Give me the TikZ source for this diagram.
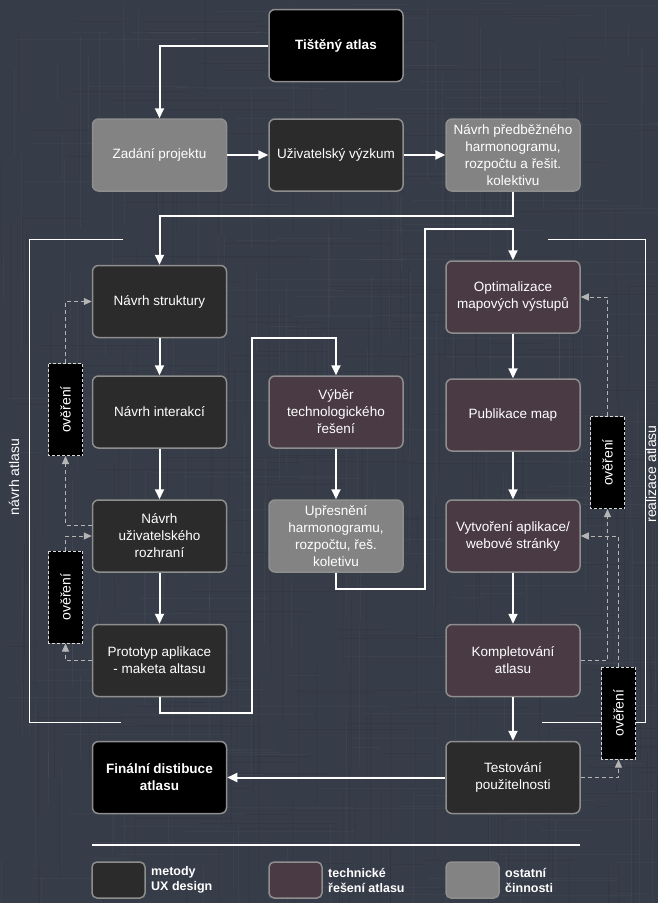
\documentclass[tikz,border=0pt]{standalone}
\usepackage{fontspec}
\setmainfont{Liberation Sans}
\usetikzlibrary{arrows.meta}
\definecolor{bgc}{HTML}{363C48}
\definecolor{darkc}{HTML}{2B2B2B}
\definecolor{grayc}{HTML}{838383}
\definecolor{maroonc}{HTML}{4A3A44}
\definecolor{borderc}{HTML}{8E8E8E}
\definecolor{dashc}{HTML}{B4B4B4}
\tikzset{
  basebox/.style={rectangle, rounded corners=6pt, draw=borderc, line width=1.5pt,
    minimum width=134pt, minimum height=72pt, inner sep=0pt, align=center,
    text=white, font=\fontsize{13.5}{17}\selectfont},
  uxbox/.style={basebox, fill=darkc},
  techbox/.style={basebox, fill=maroonc},
  othbox/.style={basebox, fill=grayc},
  keybox/.style={basebox, fill=black, font=\fontsize{13.5}{17}\selectfont\bfseries},
  checkbox/.style={rectangle, draw=white!85!black, dashed, dash pattern=on 3pt off 2pt,
    line width=1pt, fill=black, rotate=90, minimum width=92pt, minimum height=34pt,
    inner sep=0pt, text=white, font=\fontsize{14}{16}\selectfont},
  flow/.style={draw=white, line width=2pt, -{Triangle[length=10pt,width=9pt]}},
  plainline/.style={draw=white, line width=2pt},
  verif/.style={draw=dashc, line width=1pt, dash pattern=on 4pt off 3pt,
    -{Triangle[length=8pt,width=7pt]}},
  frameline/.style={draw=white, line width=1pt},
  sidelabel/.style={rotate=90, text=white, inner sep=0pt, font=\fontsize{14}{16}\selectfont},
  legbox/.style={rectangle, rounded corners=5pt, draw=borderc, line width=1.5pt,
    minimum width=53pt, minimum height=36pt, inner sep=0pt},
  legtext/.style={anchor=west, align=left, text=white, inner sep=0pt,
    font=\fontsize{12.5}{15}\selectfont\bfseries},
  texlight/.style={draw=white, opacity=0.03, line width=1pt},
  texdark/.style={draw=black, opacity=0.05, line width=1pt}
}
\begin{document}
\begin{tikzpicture}[x=1pt,y=-1pt]
\useasboundingbox (0,0) rectangle (658,903);
\fill[bgc] (0,0) rectangle (658,903);

% subtle woven background texture
\pgfmathsetseed{4242}
\begin{scope}
\clip (0,0) rectangle (658,903);
\foreach \k in {1,...,150}{
  \pgfmathsetmacro\xx{random(0,658)}
  \pgfmathsetmacro\ya{random(0,903)}
  \pgfmathsetmacro\ln{random(30,200)}
  \draw[texlight] (\xx,\ya) -- ++(0,\ln);
  \pgfmathsetmacro\xb{random(0,658)}
  \pgfmathsetmacro\yb{random(0,903)}
  \pgfmathsetmacro\lb{random(30,200)}
  \draw[texdark] (\xb,\yb) -- ++(0,\lb);
  \pgfmathsetmacro\xc{random(0,658)}
  \pgfmathsetmacro\yc{random(0,903)}
  \pgfmathsetmacro\lc{random(30,200)}
  \draw[texlight] (\xc,\yc) -- ++(\lc,0);
  \pgfmathsetmacro\xd{random(0,658)}
  \pgfmathsetmacro\yd{random(0,903)}
  \pgfmathsetmacro\ld{random(30,200)}
  \draw[texdark] (\xd,\yd) -- ++(\ld,0);
}
\end{scope}

% frames
\draw[frameline] (123,239) -- (29,239) -- (29,722) -- (121,722);
\draw[frameline] (548,239) -- (645,239) -- (645,722) -- (542,722);
\node[sidelabel] (lblL) at (14,477) {návrh atlasu};
\node[sidelabel] (lblR) at (651,474) {realizace atlasu};

% nodes
\node[keybox] (tis) at (336,45.5) {Tištěný atlas};
\node[othbox] (zad) at (159.5,155) {Zadání projektu};
\node[uxbox] (uz) at (336,155) {Uživatelský výzkum};
\node[othbox] (np) at (513,155) {Návrh předběžného\\harmonogramu,\\rozpočtu a řešit.\\kolektivu};

\node[uxbox] (ns) at (159.5,301.5) {Návrh struktury};
\node[uxbox] (ni) at (159.5,412) {Návrh interakcí};
\node[uxbox] (nu) at (159.5,536) {Návrh\\uživatelského\\rozhraní};
\node[uxbox] (pr) at (159.5,660.5) {Prototyp aplikace\\- maketa altasu};
\node[keybox] (fi) at (159.5,777.5) {Finální distibuce\\atlasu};

\node[techbox] (vy) at (336,412) {Výběr\\technologického\\řešení};
\node[othbox] (up) at (336,536) {Upřesnění\\harmonogramu,\\rozpočtu, řeš.\\koletivu};

\node[techbox] (op) at (513,297) {Optimalizace\\mapových výstupů};
\node[techbox] (pm) at (513,415) {Publikace map};
\node[techbox] (vt) at (513,536) {Vytvoření aplikace/\\webové stránky};
\node[techbox] (ko) at (513,660.5) {Kompletování\\atlasu};
\node[uxbox] (te) at (513,777.5) {Testování\\použitelnosti};

% helper coordinates
\coordinate (c1) at (513,216);
\coordinate (c2) at (159.5,713);
\coordinate (c3) at (252,713);
\coordinate (c4) at (252,338);
\coordinate (c5) at (336,589);
\coordinate (c6) at (425,589);
\coordinate (c7) at (425,229);

% main flow
\draw[flow] (tis.west) -| (zad.north);
\draw[flow] (zad) -- (uz);
\draw[flow] (uz) -- (np);
\draw[flow] (np.south) -- (c1) -| (ns.north);
\draw[flow] (ns) -- (ni);
\draw[flow] (ni) -- (nu);
\draw[flow] (nu) -- (pr);
\draw[flow] (pr.south) -- (c2) -- (c3) -- (c4) -| (vy.north);
\draw[flow] (vy) -- (up);
\draw[flow] (up.south) -- (c5) -- (c6) -- (c7) -| (op.north);
\draw[flow] (op) -- (pm);
\draw[flow] (pm) -- (vt);
\draw[flow] (vt) -- (ko);
\draw[flow] (ko) -- (te);
\draw[flow] (te.west) -- (fi.east);

% verification boxes
\node[checkbox] (l1) at (65.5,409.5) {ověření};
\node[checkbox] (l2) at (65.5,597) {ověření};
\node[checkbox] (r1) at (607.5,462.5) {ověření};
\node[checkbox] (r2) at (618.5,713) {ověření};

% verification loops
\draw[verif] ([yshift=11pt]nu.west) -| (l1.west);
\draw[verif] (l1.east) |- (ns.west);
\draw[verif] (pr.west) -| (l2.west);
\draw[verif] (l2.east) |- (nu.west);
\draw[verif] (ko.east) -| (r1.west);
\draw[verif] (r1.east) |- (op.east);
\draw[verif] (te.east) -| (r2.west);
\draw[verif] (r2.east) |- (vt.east);

% legend
\coordinate (lg1) at (92,845);
\coordinate (lg2) at (580,845);
\draw[plainline] (lg1) -- (lg2);
\node[legbox, fill=darkc] (k1) at (118.5,880) {};
\node[legtext] (t1) at (151,880) {metody\\UX design};
\node[legbox, fill=maroonc] (k2) at (295.5,880) {};
\node[legtext] (t2) at (328,880) {technické\\řešení atlasu};
\node[legbox, fill=grayc] (k3) at (472.5,880) {};
\node[legtext] (t3) at (505,880) {ostatní\\činnosti};
\end{tikzpicture}
\end{document}
